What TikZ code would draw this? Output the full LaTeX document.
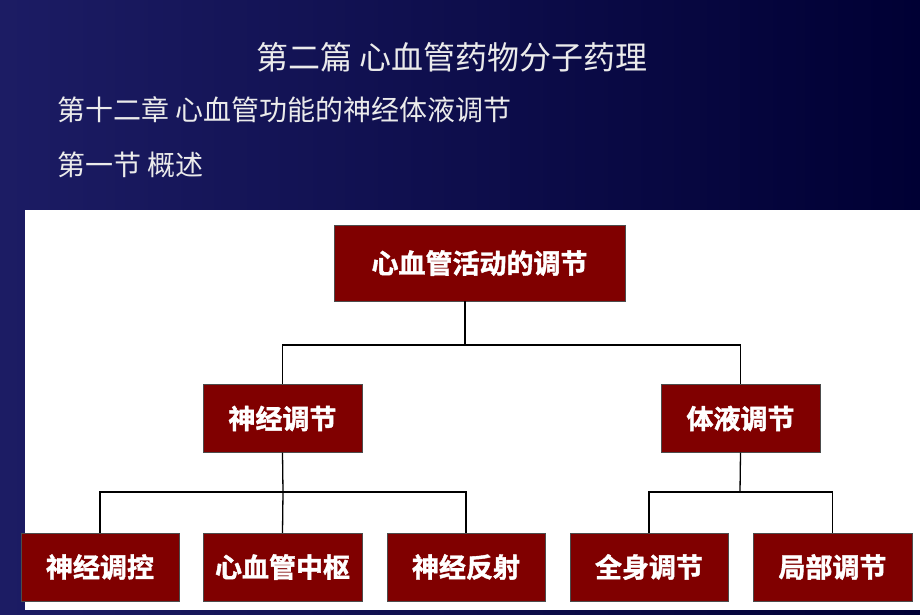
\documentclass[tikz,border=0pt]{standalone}
\usepackage{fontspec}
\newfontfamily\cjk{Noto Sans CJK SC}
\newfontfamily\cjkb[FakeBold=1.5]{Noto Sans CJK SC Bold}
\usetikzlibrary{positioning}
\definecolor{navyL}{RGB}{28,28,100}
\definecolor{navyR}{RGB}{0,0,52}
\definecolor{boxred}{RGB}{128,0,0}
\definecolor{titlegray}{RGB}{235,235,235}

\tikzset{
  box/.style = {draw=black!70, fill=boxred, text=white, font=\cjkb\fontsize{27}{27}\selectfont,
                inner sep=0pt, minimum height=68pt},
  head/.style = {text=titlegray, font=\cjk\fontsize{28}{28}\selectfont, inner sep=0pt},
  link/.style = {draw=black, line width=1.3pt}
}

\begin{document}
\begin{tikzpicture}[x=1pt, y=-1pt]
\useasboundingbox (0,0) rectangle (920,614);
\shade[left color=navyL, right color=navyR] (0,0) rectangle (920,614);
\fill[white] (25,210) rectangle (920,610);

% titles
\node[head, font=\cjk\fontsize{32}{32}\selectfont] (title) at (452,57) {第二篇 心血管药物分子药理};
\node[head, anchor=west] (chap) at (57,110) {第十二章 心血管功能的神经体液调节};
\node[head, anchor=west] (sect) at (57,165) {第一节 概述};

% boxes
\node[box, minimum width=291pt, minimum height=76pt] (top) at (479.5,263) {心血管活动的调节};
\node[box, minimum width=159pt] (nerve) at (282.5,418.5) {神经调节};
\node[box, minimum width=159pt] (humor) at (740.5,418.5) {体液调节};
\node[box, minimum width=158pt] (ctrl) at (100,567) {神经调控};
\node[box, minimum width=159pt] (center) at (282.5,567) {心血管中枢};
\node[box, minimum width=158pt] (reflex) at (466,567) {神经反射};
\node[box, minimum width=158pt] (whole) at (649,567) {全身调节};
\node[box, minimum width=159pt] (local) at (832.5,567) {局部调节};

% connectors
\coordinate (j1) at (465,345);
\coordinate (j2) at (283,492);
\coordinate (j3) at (740,492);
\draw[link] (top.south -| j1) -- (j1);
\draw[link] (nerve.north) |- (j1) -| (humor.north);
\draw[link] (nerve.south) -- (j2);
\draw[link] (ctrl.north) |- (j2) -| (reflex.north);
\draw[link] (j2) -- (center.north);
\draw[link] (humor.south) -- (j3);
\draw[link] (whole.north) |- (j3) -| (local.north);
\end{tikzpicture}
\end{document}
